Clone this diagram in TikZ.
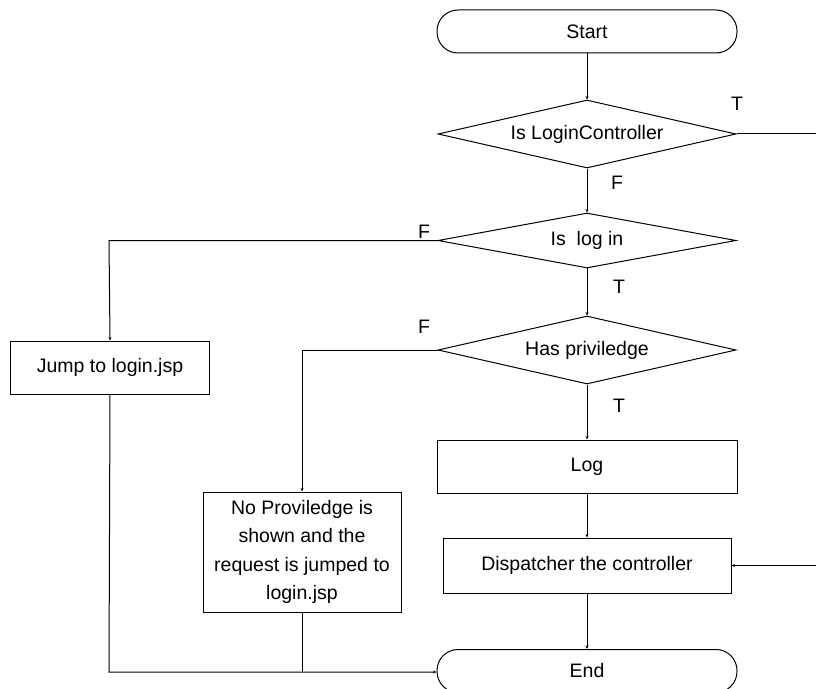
\documentclass[tikz,border=0pt]{standalone}
\usepackage{fontspec}
\setmainfont{Liberation Sans}
\usetikzlibrary{shapes.geometric,arrows.meta}
\begin{document}
\begin{tikzpicture}[x=1bp,y=-1bp,
  every node/.style={font=\fontsize{19.5bp}{28.5bp}\selectfont},
  term/.style={draw,rectangle,rounded corners=21bp,minimum width=300bp,minimum height=43bp,inner sep=0},
  dec/.style={draw,diamond,minimum width=298bp,inner sep=0,aspect=4},
  proc/.style={draw,rectangle,inner sep=0,align=center},
  lab/.style={inner sep=0},
  conn/.style={-{Stealth[length=3.5bp,width=3bp]}},
  line width=1bp]
\useasboundingbox (0,0) rectangle (816,689);

\node[term] (start) at (587,31.5) {Start};
\node[dec,minimum height=68bp] (d1) at (587,134) {Is LoginController};
\node[dec,minimum height=55bp] (d2) at (587,240.5) {Is\ \ log in};
\node[dec,minimum height=68bp] (d3) at (587,350) {Has priviledge};
\node[proc,minimum width=300bp,minimum height=53bp] (log) at (587,466.5) {Log};
\node[proc,minimum width=288bp,minimum height=55bp] (disp) at (587,565.5) {Dispatcher the controller};
\node[term] (end) at (587,671) {End};
\node[proc,minimum width=198bp,minimum height=53bp] (jump) at (110,367.5) {Jump to login.jsp};
\node[proc,minimum width=198bp,minimum height=120bp] (nopriv) at (302,552) {No Proviledge is\\shown and the\\request is jumped to\\login.jsp};

\node[lab] (t1) at (737,104) {T};
\node[lab] (f1) at (617,183) {F};
\node[lab] (f2) at (424,232) {F};
\node[lab] (t2) at (619,287) {T};
\node[lab] (f3) at (424,327) {F};
\node[lab] (t3) at (619,406) {T};

\coordinate (r1) at (817,134);
\coordinate (r2) at (817,565.5);
\coordinate (l1) at (109,240.5);
\coordinate (l2) at (302,350);
\coordinate (b1) at (109,672);
\coordinate (b2) at (302,672);

\draw[conn] (start) -- (d1);
\draw[conn] (d1) -- (d2);
\draw[conn] (d2) -- (d3);
\draw[conn] (d3) -- (log);
\draw[conn] (log) -- (disp);
\draw[conn] (disp) -- (end);
\draw[conn] (d1.east) -- (r1) -- (r2) -- (disp.east);
\draw[conn] (d2.west) -- (l1) -- (jump.north);
\draw[conn] (d3.west) -- (l2) -- (nopriv.north);
\draw[conn] (jump.south) -- (b1) -- (end.west |- b1);
\draw (nopriv.south) -- (b2);
\end{tikzpicture}
\end{document}
